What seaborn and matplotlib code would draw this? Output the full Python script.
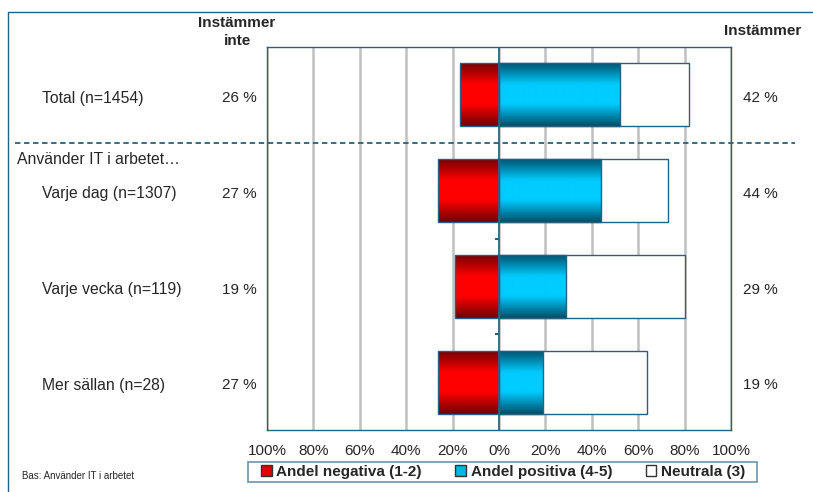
"""
Diverging bar chart: attitude to IT at work, split by usage frequency.
Saves out.png
"""

import numpy as np
import pandas as pd
import matplotlib
matplotlib.use("Agg")
import matplotlib.pyplot as plt
import matplotlib.transforms as mtransforms
from matplotlib.colors import LinearSegmentedColormap
from matplotlib.lines import Line2D
from matplotlib.patches import Patch, Rectangle
import seaborn as sns

# ─── Data ───────────────────────────────────────────────────────
rows = ["Total (n=1454)", "Varje dag (n=1307)", "Varje vecka (n=119)", "Mer sällan (n=28)"]
negativa = [17, 26.5, 19, 26.5]      # Andel negativa (1-2)
positiva = [52, 44, 29, 19]          # Andel positiva (4-5)
neutrala = [30, 29, 51, 45]          # Neutrala (3)
label_inte = ["26 %", "27 %", "19 %", "27 %"]
label_instammer = ["42 %", "44 %", "29 %", "19 %"]
xticks = [-100, -80, -60, -40, -20, 0, 20, 40, 60, 80, 100]
xticklabels = ["100%", "80%", "60%", "40%", "20%", "0%", "20%", "40%", "60%", "80%", "100%"]
group_label = "Använder IT i arbetet…"

df = pd.DataFrame({"rad": rows, "neg": negativa, "pos": positiva, "neu": neutrala})
df["neg_plot"] = -df["neg"]
df["pos_neu"] = df["pos"] + df["neu"]

# ─── Style ──────────────────────────────────────────────────────
sns.set_style("white")
plt.rcParams["font.family"] = ["Liberation Sans", "DejaVu Sans"]

TEAL = "#24627F"
GRID = "#C0C0C0"
W, H = 813, 492

red_cmap = LinearSegmentedColormap.from_list(
    "red", [(0, "#700000"), (0.35, "#FF0000"), (0.65, "#FF0000"), (1, "#700000")])
blue_cmap = LinearSegmentedColormap.from_list(
    "blue", [(0, "#004E6A"), (0.35, "#00CCFF"), (0.65, "#00CCFF"), (1, "#004E6A")])

fig = plt.figure(figsize=(W / 100, H / 100), dpi=100)
fig.patch.set_facecolor("white")
ax = fig.add_axes([267 / W, 1 - 430 / H, (731 - 267) / W, (430 - 47) / H])

bar_kw = dict(orient="y", width=0.66, errorbar=None, saturation=1,
              edgecolor=TEAL, linewidth=1, ax=ax)


def draw_bars(col, color, zorder):
    n0 = len(ax.patches)
    sns.barplot(data=df, x=col, y="rad", order=rows, color=color, zorder=zorder, **bar_kw)
    return ax.patches[n0:]


def add_gradient(patches, cmap):
    grad = np.linspace(0, 1, 256).reshape(-1, 1)
    for p in patches:
        x0, y0 = p.get_x(), p.get_y()
        x1, y1 = x0 + p.get_width(), y0 + p.get_height()
        im = ax.imshow(grad, cmap=cmap, aspect="auto", interpolation="bicubic",
                       extent=[min(x0, x1), max(x0, x1), max(y0, y1), min(y0, y1)],
                       zorder=p.get_zorder() - 0.5)
        im.set_clip_path(p)
        p.set_facecolor("none")


draw_bars("pos_neu", "white", 2)            # neutral part sits to the right of positive
pos_bars = draw_bars("pos", "#00CCFF", 4)
neg_bars = draw_bars("neg_plot", "#FF0000", 4)
add_gradient(pos_bars, blue_cmap)
add_gradient(neg_bars, red_cmap)

# ─── Axes ───────────────────────────────────────────────────────
ax.set_xlim(-100, 100)
ax.set_ylim(len(rows) - 0.5, -0.5)
ax.set_xticks(xticks)
ax.set_xticklabels(xticklabels, fontsize=11)
ax.set_yticks([])
ax.set_xlabel("")
ax.set_ylabel("")
ax.tick_params(axis="x", direction="out", length=4, width=1, color=TEAL, pad=6)
ax.grid(axis="x", color=GRID, linewidth=1.8, zorder=0)
ax.set_axisbelow(True)
for s in ax.spines.values():
    s.set_color(TEAL)
    s.set_linewidth(1)
ax.axvline(0, color=TEAL, linewidth=1.2, zorder=5)
# small category ticks on the zero axis
ax.hlines([1.5, 2.5], -1.8, 0, color=TEAL, linewidth=1.5, zorder=5)

# ─── Labels ─────────────────────────────────────────────────────
fig_y = mtransforms.blended_transform_factory(fig.transFigure, ax.transData)
for i, name in enumerate(rows):
    ty = i + 0.035
    ax.text(42 / W, ty, name, transform=fig_y, ha="left", va="center", fontsize=11.3)
    ax.text(257 / W, ty, label_inte[i], transform=fig_y, ha="right", va="center", fontsize=11)
    ax.text(778 / W, ty, label_instammer[i], transform=fig_y, ha="right", va="center", fontsize=11)
ax.text(17 / W, 0.68, group_label, transform=fig_y, ha="left", va="center", fontsize=11.3)

# dashed separator between Total and the groups
ax.add_line(Line2D([15 / W, 795 / W], [0.5, 0.5], transform=fig_y, color=TEAL,
                   linewidth=1.3, linestyle=(0, (3, 2)), clip_on=False))

fig.text(237 / W, 1 - 32 / H, "Instämmer\ninte", ha="center", va="center",
         fontsize=11, fontweight="bold", linespacing=1.3)
fig.text(763 / W, 1 - 31 / H, "Instämmer", ha="center", va="center",
         fontsize=11, fontweight="bold")
fig.text(22 / W, 1 - 476 / H, "Bas: Använder IT i arbetet", ha="left", va="center", fontsize=7)

# outer frame (top and left edge)
fig.add_artist(Line2D([8 / W, 1], [1 - 12 / H, 1 - 12 / H], transform=fig.transFigure,
                      color=TEAL, linewidth=1))
fig.add_artist(Line2D([8 / W, 8 / W], [0, 1 - 12 / H], transform=fig.transFigure,
                      color=TEAL, linewidth=1))

# ─── Legend ─────────────────────────────────────────────────────
handles = [Patch(facecolor="#E00000", edgecolor="#333333", label="Andel negativa (1-2)"),
           Patch(facecolor="#00B8E6", edgecolor="#333333", label="Andel positiva (4-5)"),
           Patch(facecolor="white", edgecolor="#333333", label="Neutrala (3)")]
fig.legend(handles=handles, ncol=3, loc="center",
           bbox_to_anchor=(503 / W, 1 - 472 / H), frameon=False,
           handlelength=0.7, handleheight=0.7, handletextpad=0.3,
           columnspacing=2.2, borderpad=0.15,
           prop={"weight": "bold", "size": 11})
fig.add_artist(Rectangle((248 / W, 1 - 482 / H), (757 - 248) / W, 20 / H,
                         transform=fig.transFigure, fill=False,
                         edgecolor="#6F93A8", linewidth=1.2))

fig.savefig("out.png", dpi=100)
